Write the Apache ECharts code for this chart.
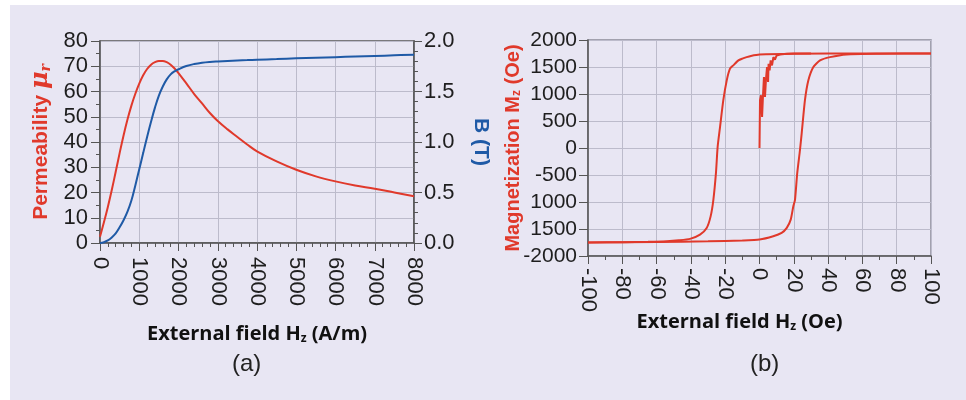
<!DOCTYPE html>
<html>
<head>
<meta charset="utf-8">
<script src="https://cdn.jsdelivr.net/npm/echarts@6/dist/echarts.min.js"></script>
<style>
  html, body { margin: 0; padding: 0; background: #fff; }
  #chart { width: 966px; height: 400px; }
</style>
</head>
<body>
<div id="chart"></div>
<script>
// (a) permeability and flux density against the applied field
var hField = [0, 100, 200, 300, 400, 500, 600, 700, 800, 900, 1000, 1100, 1200, 1300, 1400, 1500, 1600, 1700, 1800, 1900, 2000,
  2200, 2400, 2600, 2800, 3000, 3250, 3500, 3750, 4000, 4500, 5000, 5500, 6000, 6500, 7000, 7500, 8000];
var permeability = [2.5, 8.2, 14.3, 21, 28.2, 35.6, 42.6, 48.9, 54.4, 59.1, 63.1, 66.4, 68.9, 70.6, 71.6, 72.1, 72.1, 71.6, 70.6, 69.1, 67.3,
  63.2, 59, 55.3, 51.5, 48.3, 45, 42, 39, 36.3, 32.3, 29, 26.4, 24.4, 22.8, 21.5, 20, 18.5];
var bField = [0, 0.008, 0.025, 0.055, 0.095, 0.155, 0.225, 0.31, 0.42, 0.57, 0.73, 0.89, 1.05, 1.2, 1.34, 1.46, 1.55, 1.62, 1.67, 1.7, 1.72,
  1.752, 1.772, 1.785, 1.793, 1.798, 1.803, 1.807, 1.811, 1.815, 1.821, 1.828, 1.834, 1.84, 1.846, 1.852, 1.858, 1.865];

// (b) hysteresis loop
var initH = [0, 0.3, 0.9, 1.5, 2.0, 2.6, 3.2, 3.8, 4.4, 5.0, 5.3, 5.9, 6.5, 7.3, 8.1, 9.0, 10, 12, 16, 20, 30];
var initM = [0, 885, 977, 577, 946, 1314, 946, 1285, 1499, 1222, 1561, 1438, 1622, 1530, 1683, 1635, 1714, 1733, 1745, 1750, 1750];
var downH = [100, 60, 20, 0, -5, -7.5, -10, -12.3, -15.3, -17.2, -19.1, -21.1, -23, -24.4, -25.4, -26.9, -28.5, -30.8, -34.7, -40.5, -47, -54, -65, -79.4, -100];
var downM = [1750, 1750, 1745, 1730, 1705, 1683, 1655, 1622, 1530, 1469, 1253, 885, 392, 24, -466, -959, -1266, -1480, -1604, -1683, -1710, -1727, -1738, -1745, -1748];
var upH = [-100, -60, -30, -10, 0, 8, 12.9, 15.9, 18.2, 19.7, 20.7, 22, 23.6, 24.6, 26.5, 28.5, 31.4, 35.3, 41.1, 50.8, 70, 100];
var upM = [-1748, -1740, -1728, -1712, -1696, -1635, -1573, -1480, -1327, -1082, -959, -466, -37, 271, 885, 1253, 1499, 1622, 1683, 1733, 1745, 1750];

var magTicks = ['-2000', '1500', '1000', '-500', '0', '500', '1000', '1500', '2000'];

var red = '#e0392b';
var blue = '#1f5aa6';
var labelFont = {color: '#1e1e1e', fontSize: 22, fontFamily: 'Liberation Sans'};

function pairs(xs, ys) {
    return xs.map(function (x, i) { return [x, ys[i]]; });
}

var chart = echarts.init(document.getElementById('chart'));

var gridLine = {show: true, lineStyle: {color: '#bcbbcb', width: 1}};

chart.setOption({
    backgroundColor: '#ffffff',
    animation: false,
    graphic: [
        {type: 'rect', z: -10, shape: {x: 10, y: 5, width: 956, height: 395}, style: {fill: '#e8e6f3'}},
        {type: 'text', left: 232, top: 352, style: {text: '(a)', fontSize: 24, fontFamily: 'Liberation Sans', fill: '#222'}},
        {type: 'text', left: 750, top: 352, style: {text: '(b)', fontSize: 24, fontFamily: 'Liberation Sans', fill: '#222'}}
    ],
    grid: [
        {left: 100, top: 41, width: 314, height: 202, show: true, borderColor: '#555', borderWidth: 1.5},
        {left: 588, top: 40, width: 343, height: 216, show: true, borderColor: '#8a8a98', borderWidth: 1.5}
    ],
    xAxis: [
        {
            gridIndex: 0, type: 'value', min: 0, max: 8000, interval: 1000,
            name: 'External field H{sub|z} (A/m)', nameLocation: 'middle', nameGap: 80, nameMoveOverlap: false,
            nameTextStyle: {
                fontSize: 20, fontWeight: 'bold', fontFamily: 'Open Sans', color: '#111',
                rich: {sub: {fontSize: 12, fontWeight: 'bold', fontFamily: 'Open Sans', verticalAlign: 'bottom', padding: [10, 0, 0, 0]}}
            },
            axisLine: {onZero: false, lineStyle: {color: '#555', width: 1.5}},
            axisTick: {length: 8, lineStyle: {color: '#555'}},
            minorTick: {show: true, splitNumber: 5, length: 4, lineStyle: {color: '#555'}},
            axisLabel: Object.assign({rotate: -90, margin: 14, formatter: function (v) { return String(v); }}, labelFont),
            splitLine: gridLine
        },
        {
            gridIndex: 1, type: 'value', min: -100, max: 100, interval: 20,
            name: 'External field H{sub|z} (Oe)', nameLocation: 'middle', nameGap: 55, nameMoveOverlap: false,
            nameTextStyle: {
                fontSize: 20, fontWeight: 'bold', fontFamily: 'Open Sans', color: '#111', padding: [0, 40, 0, 0],
                rich: {sub: {fontSize: 12, fontWeight: 'bold', fontFamily: 'Open Sans', verticalAlign: 'bottom', padding: [10, 0, 0, 0]}}
            },
            axisLine: {onZero: false, lineStyle: {color: '#555', width: 1.5}},
            axisTick: {length: 8, lineStyle: {color: '#555'}},
            minorTick: {show: true, splitNumber: 2, length: 4, lineStyle: {color: '#555'}},
            axisLabel: Object.assign({rotate: -90, margin: 12, formatter: function (v) { return String(v); }}, labelFont),
            splitLine: gridLine
        }
    ],
    yAxis: [
        {
            gridIndex: 0, type: 'value', min: 0, max: 80, interval: 10, position: 'left',
            name: 'Permeability {mu|μ}{r|r}', nameLocation: 'middle', nameGap: 47, nameMoveOverlap: false,
            nameTextStyle: {
                fontSize: 21, fontWeight: 'bold', fontFamily: 'Liberation Sans', color: red,
                rich: {
                    mu: {fontSize: 24, fontStyle: 'italic', fontWeight: 'bold', fontFamily: 'DejaVu Serif', color: red},
                    r: {fontSize: 14, fontStyle: 'italic', fontWeight: 'bold', fontFamily: 'DejaVu Serif', color: red, verticalAlign: 'bottom'}
                }
            },
            axisLine: {show: true, onZero: false, lineStyle: {color: '#555', width: 1.5}},
            axisTick: {show: true, length: 9, lineStyle: {color: '#555'}},
            minorTick: {show: true, splitNumber: 2, length: 4, lineStyle: {color: '#555'}},
            axisLabel: Object.assign({margin: 12}, labelFont),
            splitLine: gridLine
        },
        {
            gridIndex: 0, type: 'value', min: 0, max: 2, interval: 0.5, position: 'right',
            name: 'B (T)', nameLocation: 'middle', nameGap: 56, nameRotate: -90, nameMoveOverlap: false,
            nameTextStyle: {fontSize: 21, fontWeight: 'bold', fontFamily: 'Liberation Sans', color: blue},
            axisLine: {show: true, onZero: false, lineStyle: {color: '#555', width: 1.5}},
            axisTick: {show: true, length: 8, lineStyle: {color: '#555'}},
            minorTick: {show: true, splitNumber: 5, length: 4, lineStyle: {color: '#555'}},
            axisLabel: Object.assign({margin: 10, formatter: function (v) { return v.toFixed(1); }}, labelFont),
            splitLine: {show: false}
        },
        {
            gridIndex: 1, type: 'value', min: -2000, max: 2000, interval: 500,
            name: 'Magnetization M{sub|z} (Oe)', nameLocation: 'middle', nameGap: 65, nameMoveOverlap: false,
            nameTextStyle: {
                fontSize: 20, fontWeight: 'bold', fontFamily: 'Liberation Sans', color: red,
                rich: {sub: {fontSize: 12, fontWeight: 'bold', fontFamily: 'Liberation Sans', color: red, verticalAlign: 'bottom'}}
            },
            axisLine: {show: true, onZero: false, lineStyle: {color: '#555', width: 1.5}},
            axisTick: {show: true, length: 9, lineStyle: {color: '#555'}},
            axisLabel: Object.assign({
                margin: 11,
                formatter: function (v) { return magTicks[Math.round((v + 2000) / 500)]; }
            }, labelFont, {fontSize: 21}),
            splitLine: gridLine
        }
    ],
    series: [
        {
            name: 'permeability', type: 'line', xAxisIndex: 0, yAxisIndex: 0, smooth: 0.4, showSymbol: false,
            lineStyle: {color: red, width: 2}, data: pairs(hField, permeability)
        },
        {
            name: 'B', type: 'line', xAxisIndex: 0, yAxisIndex: 1, smooth: 0.4, showSymbol: false,
            lineStyle: {color: blue, width: 2}, data: pairs(hField, bField)
        },
        {
            name: 'initial', type: 'line', xAxisIndex: 1, yAxisIndex: 2, showSymbol: false,
            lineStyle: {color: red, width: 2}, data: pairs(initH, initM)
        },
        {
            name: 'descending', type: 'line', xAxisIndex: 1, yAxisIndex: 2, showSymbol: false, smooth: 0.2,
            lineStyle: {color: red, width: 2}, data: pairs(downH, downM)
        },
        {
            name: 'ascending', type: 'line', xAxisIndex: 1, yAxisIndex: 2, showSymbol: false, smooth: 0.2,
            lineStyle: {color: red, width: 2}, data: pairs(upH, upM)
        }
    ]
});
</script>
</body>
</html>
